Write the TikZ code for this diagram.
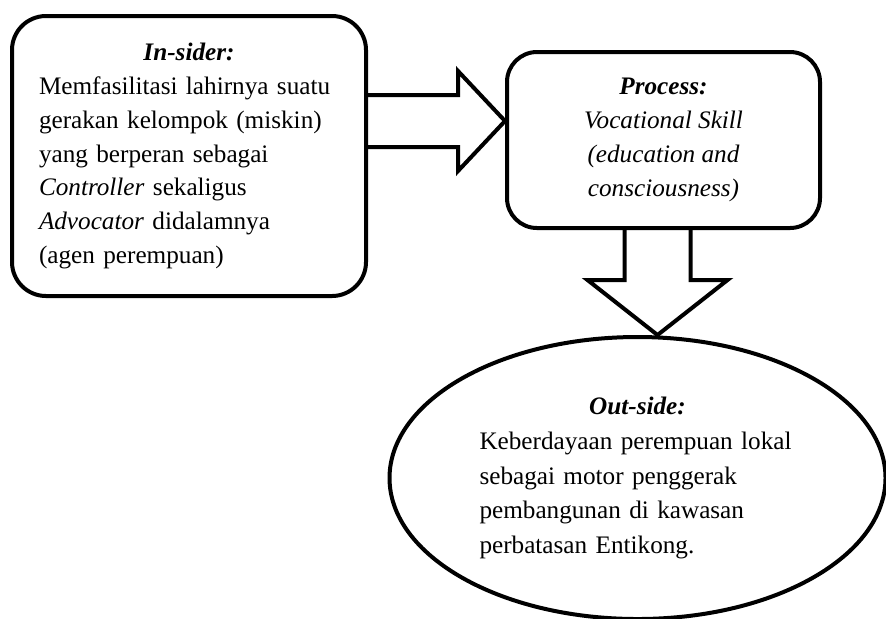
\documentclass[tikz,border=0pt]{standalone}
\usepackage{fontspec}
\setmainfont{Liberation Serif}
\usetikzlibrary{
        calc,
        positioning,
        shapes.geometric
    }
\tikzset{
    txt/.style={font=\fontsize{12.6}{16.9}\selectfont,inner sep=0pt},
    box/.style={txt,draw,line width=2pt,rounded corners=17pt},
    oval/.style={txt,draw,ellipse,line width=2pt,font=\fontsize{12.6}{17.3}\selectfont},
    blockarrow/.style={draw,line width=2pt,line join=miter}
}
\newcommand{\head}[1]{\textbf{\textit{#1}}}

\begin{document}
\begin{tikzpicture}[x=0.5pt,y=-0.5pt]
    \useasboundingbox (0,0) rectangle (886,618);
    \node[box,minimum width=177pt,minimum height=140pt,text width=150pt,align=left] (insider) at (189,156)
        {\hfill\head{In-sider:}\hfill\null\\
         Memfasilitasi lahirnya suatu\\
         gerakan kelompok (miskin)\\
         yang berperan sebagai\\
         \textit{Controller} sekaligus\\
         \textit{Advocator} didalamnya\\
         (agen perempuan)};
    \node[box,rounded corners=15pt,minimum width=156.5pt,minimum height=88pt,align=center,
          below right=18pt and 68.5pt of insider.north east] (process)
        {\head{Process:}\\
         \textit{Vocational Skill}\\
         \textit{(education and}\\
         \textit{consciousness)}};
    \node[oval,minimum width=248pt,minimum height=141pt,text width=158pt,align=left,
          below=52.5pt of process,xshift=-13pt] (outside)
        {\hfill\head{Out-side:}\hfill\null\\
         Keberdayaan perempuan lokal\\
         sebagai motor penggerak\\
         pembangunan di kawasan\\
         perbatasan Entikong.};
    % block arrows
    \coordinate (rtip) at ($(process.west)+(0,-19)$);
    \coordinate (dtip) at ($(process.south |- outside.north)+(-6,0)$);
    \draw[blockarrow] ($(insider.east |- rtip)+(0,-26)$) -- ($(rtip)+(-47,-26)$) -- ($(rtip)+(-47,-50)$)
        -- (rtip) -- ($(rtip)+(-47,50)$) -- ($(rtip)+(-47,26)$) -- ($(insider.east |- rtip)+(0,26)$);
    \draw[blockarrow] ($(process.south -| dtip)+(-33,0)$) -- ($(dtip)+(-33,-55)$) -- ($(dtip)+(-70,-55)$)
        -- (dtip) -- ($(dtip)+(70,-55)$) -- ($(dtip)+(33,-55)$) -- ($(process.south -| dtip)+(33,0)$);
\end{tikzpicture}
\end{document}
